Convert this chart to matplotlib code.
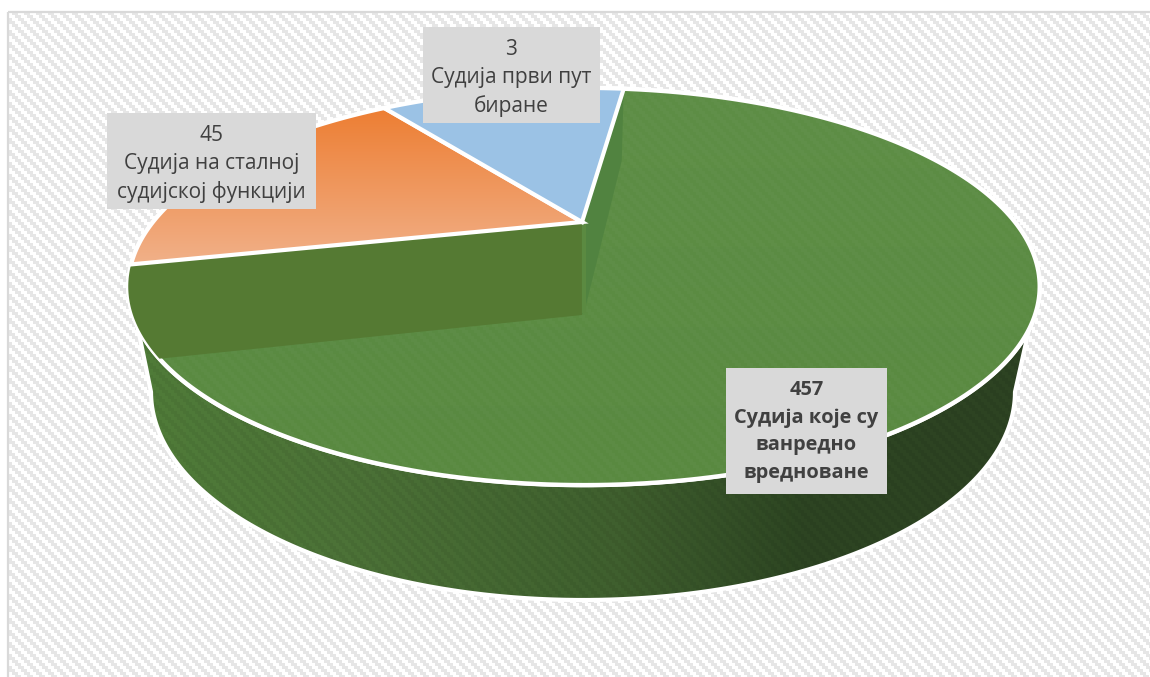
import numpy as np
import matplotlib
matplotlib.use("Agg")
import matplotlib.pyplot as plt
from matplotlib.patches import Polygon, Rectangle

# values printed on the labels
label_values = [3, 45, 457]
label_names = ["Судија први пут\nбиране", "Судија на сталној\nсудијској функцији",
               "Судија које су\nванредно\nвредноване"]
# slice sizes as drawn, in percent (they do not follow the printed values)
slice_shares = [11.9, 18.6, 69.5]
start_angle = 7.0  # degrees clockwise from the far side of the pie

# label boxes: x0, y0, x1, y1
label_boxes = [(423, 27, 600, 123), (107, 113, 316, 209), (726, 368, 887, 494)]

W, H = 1150, 677

# perspective of the top face
cx, cy = 584, 222
apex_x = 582
k = 0.325
a, b = 431, 177.6
# bottom edge of the side wall
bot_cx, bot_cy, bot_a, bot_b = 583, 392, 432, 208
wall_depth = 93


def project(theta):
    theta = np.radians(theta)
    u, v = np.sin(theta), -np.cos(theta)
    d = 1 - k * v
    return np.column_stack([cx + a * u / d, cy + b * v / d])


def wedge(t0, t1):
    arc = project(np.linspace(t0, t1, 200))
    return np.vstack([[apex_x, cy], arc])


def stripes(color, alpha):
    yy, xx = np.mgrid[0:H, 0:W]
    mask = ((xx // 3 - yy // 3) % 4) < 2
    img = np.zeros((H, W, 4))
    img[..., :3] = matplotlib.colors.to_rgb(color)
    img[..., 3] = mask * alpha
    return img


def hgrad(stops, xs):
    c = np.array([matplotlib.colors.to_rgb(s) for s in stops])
    xi = np.arange(W)
    return np.dstack([np.tile(np.interp(xi, xs, c[:, i]), (H, 1)) for i in range(3)])


def vgrad(c0, c1, y0, y1):
    c0, c1 = matplotlib.colors.to_rgb(c0), matplotlib.colors.to_rgb(c1)
    yi = np.arange(H)
    return np.dstack([np.tile(np.interp(yi, [y0, y1], [c0[i], c1[i]]).reshape(-1, 1), (1, W)) for i in range(3)])


fig = plt.figure(figsize=(W / 100, H / 100), dpi=100)
ax = fig.add_axes([0, 0, 1, 1])
ext = (0, W, H, 0)


def paint(img, clip=None, z=1):
    im = ax.imshow(img, extent=ext, aspect="auto", interpolation="nearest", zorder=z)
    if clip is not None:
        im.set_clip_path(clip)


# chart area background
bg = Rectangle((8, 12), W, H, transform=ax.transData)
paint(stripes("#e6e6e6", 1.0), bg, 1)
ax.add_patch(Rectangle((8, 12), W, H, facecolor="none", edgecolor="#d9d9d9", lw=1.6, zorder=2))

# side of the pie
rim = project(np.linspace(90, 270, 400))
rim = rim[rim[:, 1] > 280]
t = np.linspace(0, np.pi, 300)
bottom = np.column_stack([bot_cx + bot_a * np.cos(t), bot_cy + bot_b * np.sin(t)])
side_pts = np.vstack([rim, bottom[::-1]])
ax.add_patch(Polygon(side_pts, facecolor="none", edgecolor="white", lw=3, zorder=4, joinstyle="round"))
side_clip = Polygon(side_pts, transform=ax.transData)
paint(hgrad(["#507c39", "#4c7237", "#3f5f2e", "#2d4522", "#2e4323"], [130, 350, 620, 800, 1040]), side_clip, 3)
paint(stripes("#000000", 0.05), side_clip, 3.5)

# shares to angles, going anticlockwise from the start angle
spans = np.array(slice_shares) / sum(slice_shares) * 360
blue_end = start_angle - spans[0]
orange_end = blue_end - spans[1]

# top face
ax.add_patch(Polygon(project(np.linspace(0, 360, 720)), closed=True, facecolor="none",
                     edgecolor="white", lw=3.2, zorder=6))
top_clip = Polygon(project(np.linspace(0, 360, 720)), closed=True, transform=ax.transData)
paint(vgrad("#5e8e46", "#598940", 88, 485), top_clip, 5)
paint(stripes("#ffffff", 0.025), top_clip, 5.5)

# inner walls of the green slice
wall_arc = project(np.linspace(orange_end, orange_end - 25.2, 50))
ax.add_patch(Polygon(np.vstack([[apex_x, cy], wall_arc, [apex_x, cy + wall_depth]]), facecolor="#557a33",
                     edgecolor="none", zorder=7))
rim_start = project(np.array([start_angle]))[0]
ax.add_patch(Polygon(np.vstack([[apex_x, cy], rim_start, rim_start + [-2, 72], [apex_x + 4, cy + 83],
                                [apex_x, cy + wall_depth]]),
                     facecolor="#518340", edgecolor="none", zorder=7))
ax.plot([apex_x + 2, apex_x + 2], [cy, cy + wall_depth - 2], color="#5b8a41", lw=3, zorder=7.5,
        solid_capstyle="butt")

# orange and blue slices
orange_pts = wedge(blue_end, orange_end)
orange_clip = Polygon(orange_pts, transform=ax.transData)
paint(vgrad("#ed7d31", "#f1b088", 105, 262), orange_clip, 8)
ax.add_patch(Polygon(orange_pts, facecolor="none", edgecolor="white", lw=3, zorder=9, joinstyle="miter"))
ax.add_patch(Polygon(wedge(start_angle, blue_end), facecolor="#9bc2e5", edgecolor="white", lw=3, zorder=9,
                     joinstyle="miter"))

# labels
for i in range(3):
    x0, y0, x1, y1 = label_boxes[i]
    bold = i == 2
    ax.add_patch(Rectangle((x0, y0), x1 - x0, y1 - y0, facecolor="#d9d9d9", edgecolor="none", zorder=10))
    ax.text((x0 + x1) / 2, (y0 + y1) / 2 + (0.5 if bold else 3), f"{label_values[i]}\n{label_names[i]}",
            ha="center", va="center", color="#404040", fontsize=14.4 if bold else 15, family="Open Sans",
            linespacing=1.515 if bold else 1.454, fontweight="bold" if bold else "normal", zorder=11)

ax.set_xlim(0, W)
ax.set_ylim(H, 0)
ax.axis("off")
fig.savefig("out.png", dpi=100, facecolor="white")
